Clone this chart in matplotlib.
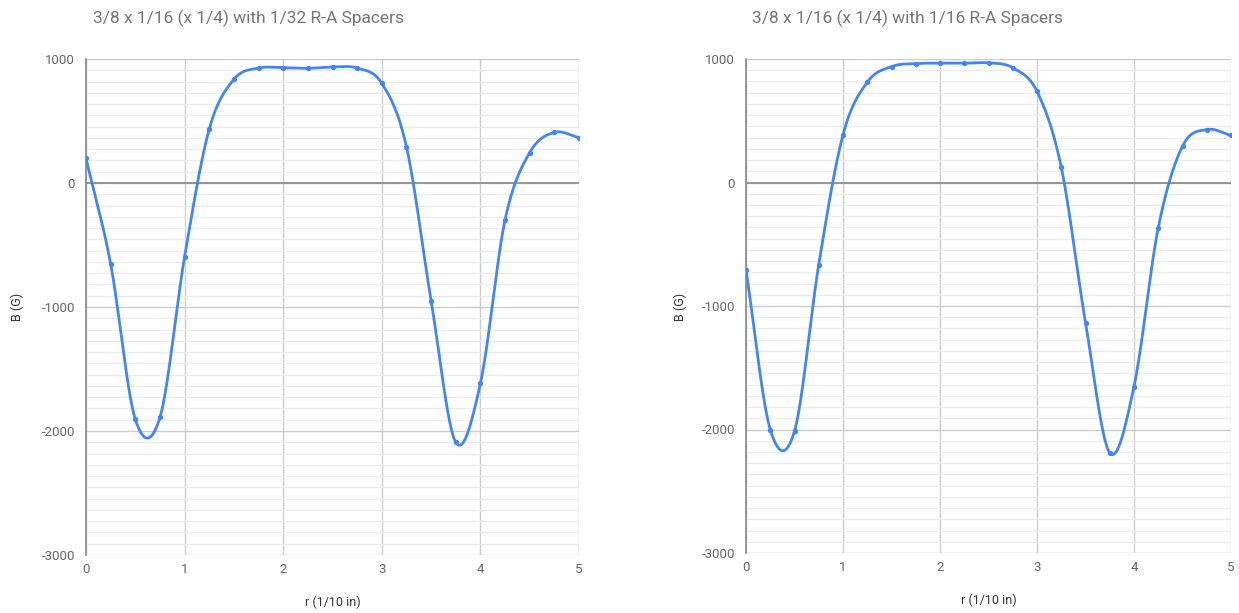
import numpy as np
import matplotlib.pyplot as plt
from matplotlib.ticker import MultipleLocator

plt.rcParams['font.family'] = ['Roboto', 'DejaVu Sans']
plt.rcParams['axes.unicode_minus'] = False

r = [0, 0.25, 0.5, 0.75, 1.0, 1.25, 1.5, 1.75, 2.0, 2.25, 2.5,
     2.75, 3.0, 3.25, 3.5, 3.75, 4.0, 4.25, 4.5, 4.75, 5.0]
b_32 = [199, -653, -1906, -1890, -594, 435, 836, 927, 930, 925, 935,
        927, 804, 293, -949, -2091, -1616, -298, 245, 408, 366]
b_16 = [-707, -2000, -2013, -664, 386, 812, 939, 963, 966, 966, 969,
        929, 737, 124, -1134, -2189, -1652, -367, 294, 429, 381]

titles = ["3/8 x 1/16 (x 1/4) with 1/32 R-A Spacers",
          "3/8 x 1/16 (x 1/4) with 1/16 R-A Spacers"]


def catmull(x, y, n=30):
    # smooth curve through the points, like the sheets "smooth" line
    x = np.asarray(x, float)
    y = np.asarray(y, float)
    m = np.zeros_like(y)
    m[1:-1] = (y[2:] - y[:-2]) / (x[2:] - x[:-2])
    m[0] = (y[1] - y[0]) / (x[1] - x[0])
    m[-1] = (y[-1] - y[-2]) / (x[-1] - x[-2])
    xs, ys = [], []
    for i in range(len(x) - 1):
        h = x[i + 1] - x[i]
        t = np.linspace(0, 1, n, endpoint=False)
        h00 = 2*t**3 - 3*t**2 + 1
        h10 = t**3 - 2*t**2 + t
        h01 = -2*t**3 + 3*t**2
        h11 = t**3 - t**2
        xs.append(x[i] + t*h)
        ys.append(h00*y[i] + h10*h*m[i] + h01*y[i+1] + h11*h*m[i+1])
    xs.append([x[-1]])
    ys.append([y[-1]])
    return np.concatenate(xs), np.concatenate(ys)


fig = plt.figure(figsize=(12.39, 6.13), dpi=100)
boxes = [[86/1239, 58/613, 493/1239, 496/613],
         [746/1239, 60/613, 485/1239, 494/613]]
title_x = [93/1239, 752/1239]
ylab_x = [17/1239, 680/1239]

for k, vals in enumerate([b_32, b_16]):
    ax = fig.add_axes(boxes[k])
    sx, sy = catmull(r, vals)
    ax.plot(sx, sy, color='#4285F4', lw=2, zorder=5, solid_capstyle='round')
    ax.plot(r, vals, 'o', color='#4285F4', ms=2.8, zorder=6)
    ax.set_xlim(0, 5)
    ax.set_ylim(-3000, 1000)
    ax.xaxis.set_major_locator(MultipleLocator(1))
    ax.yaxis.set_major_locator(MultipleLocator(1000))
    ax.yaxis.set_minor_locator(MultipleLocator(1000/11))
    ax.grid(True, which='major', color='#cccccc', lw=1)
    ax.grid(True, which='minor', axis='y', color='#ebebeb', lw=1)
    ax.axhline(0, color='#888888', lw=1.2, zorder=3)
    ax.set_axisbelow(True)
    for s in ['top', 'right', 'bottom']:
        ax.spines[s].set_visible(False)
    ax.spines['left'].set_color('#888888')
    ax.spines['left'].set_linewidth(1.2)
    ax.tick_params(which='both', length=0, labelsize=9.5, colors='#666666')
    ax.tick_params(axis='x', pad=6)
    ax.tick_params(axis='y', pad=8)
    ax.set_xlabel('r (1/10 in)', fontsize=9, color='#333333', labelpad=14)
    fig.text(ylab_x[k], 0.5, 'B (G)', rotation=90, fontsize=9,
             color='#333333', ha='center', va='center')
    fig.text(title_x[k], 1 - 18/613, titles[k], fontsize=12.5, color='#757575',
             ha='left', va='center')

fig.savefig('out.png', dpi=100)
